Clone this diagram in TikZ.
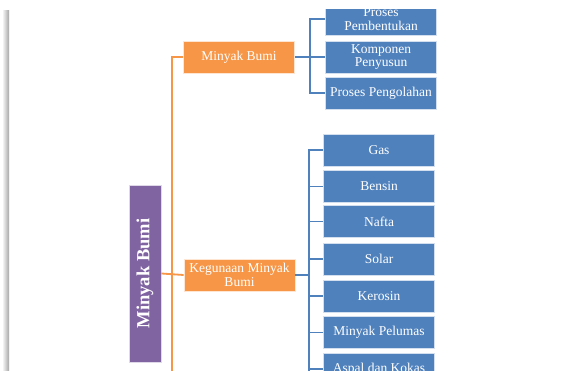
\documentclass[tikz,border=0pt]{standalone}
\usepackage{fontspec}
\setmainfont{Liberation Serif}
\definecolor{obox}{HTML}{F79646}
\definecolor{bbox}{HTML}{4F81BD}
\definecolor{pbox}{HTML}{8064A2}
\begin{document}
\begin{tikzpicture}[x=1pt,y=-1pt,
  box/.style={rectangle,draw=white!75!#1,line width=0.8pt,fill=#1,text=white,
     minimum width=111pt,minimum height=32pt,inner sep=0.5pt,align=center,
     font=\fontsize{13.5}{13.5}\selectfont},
  obx/.style={box=obox},
  bbx/.style={box=bbox},
  oline/.style={draw=obox,line width=1.8pt},
  bline/.style={draw=bbox,line width=1.8pt}]
\useasboundingbox (0,0) rectangle (568,370);
\fill[white] (0,0) rectangle (568,370);
\begin{scope}
\clip (0,9) rectangle (568,370);
\shade[left color=white,right color=black!35] (2,10) rectangle (9,372);
% purple root
\node[rectangle,fill=pbox,draw=white!75!pbox,line width=0.8pt,minimum width=177pt,minimum height=32pt,
  text=white,font=\fontsize{18.5}{18.5}\selectfont\bfseries,rotate=90] (root) at (145,273.5) {Minyak Bumi};
% orange level
\node[obx] (mb) at (239,57) {Minyak Bumi};
\node[obx] (kg) at (239.5,275) {Kegunaan Minyak\\Bumi};
% blue top group
\node[bbx] (p1) at (381,19) {Proses\\Pembentukan};
\node[bbx] (p2) at (381,57) {Komponen\\Penyusun};
\node[bbx] (p3) at (381,93) {Proses Pengolahan};
% blue bottom group
\node[bbx] (g1) at (379,150) {Gas};
\node[bbx] (g2) at (379,186.5) {Bensin};
\node[bbx] (g3) at (379,221.5) {Nafta};
\node[bbx] (g4) at (379,259) {Solar};
\node[bbx] (g5) at (379,296) {Kerosin};
\node[bbx] (g6) at (379,332.5) {Minyak Pelumas};
\node[bbx] (g7) at (379,369) {Aspal dan Kokas};
% orange connectors
\coordinate (obot) at (172,375);
\draw[oline] (mb.west) -- ++(-11,0) |- (obot);
\draw[oline] (root.south) -- (kg.west);
% blue connectors top
\coordinate (tb) at (310,57);
\draw[bline] (mb.east) -- (tb);
\draw[bline] (p1.west) -- (310,19) -- (310,93) -- (p3.west);
\draw[bline] (tb) -- (p2.west);
% blue connectors bottom
\coordinate (bb) at (309,275);
\coordinate (bbot) at (309,375);
\draw[bline] (kg.east) -- (bb);
\draw[bline] (g1.west) -- (309,150) -- (bbot);
\foreach \n/\y in {g2/186.5,g3/221.5,g4/259,g5/296,g6/332.5,g7/369}
  \draw[bline] (309,\y) -- (\n.west);
\end{scope}
\end{tikzpicture}
\end{document}
